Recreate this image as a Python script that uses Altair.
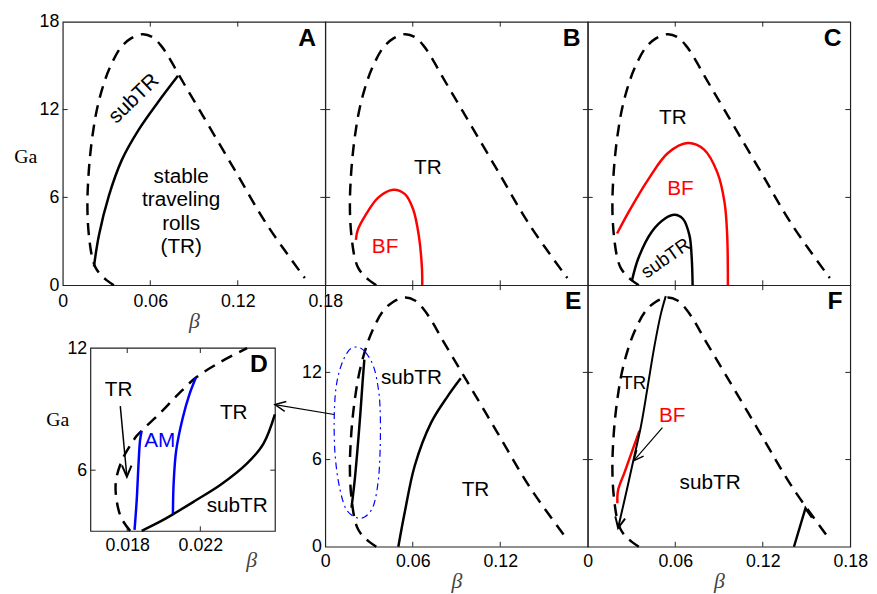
import altair as alt
import pandas as pd

# ------------------------------------------------------------------ data
# neutral stability curve (dashed), shared by panels A, B, C, E, F
neutral_beta = [0.0350, 0.0300, 0.0259, 0.0225, 0.0203, 0.0185, 0.0172, 0.0169, 0.0174, 0.0186,
                0.0205, 0.0232, 0.0270, 0.0320, 0.0395, 0.0465, 0.0548, 0.0615, 0.0675, 0.0735,
                0.0800, 0.0952, 0.1177, 0.1403, 0.1660]
neutral_ga = [0.00, 0.35, 0.72, 1.20, 1.84, 2.90, 4.30, 5.70, 7.10, 8.70,
              10.30, 11.90, 13.40, 14.80, 16.20, 16.85, 17.15, 16.95, 16.35, 15.45,
              14.30, 11.73, 7.91, 4.09, 0.49]

# panel A
subA_beta = [0.0214, 0.0248, 0.0316, 0.0406, 0.0519, 0.0654, 0.0790]
subA_ga = [1.28, 3.42, 6.11, 8.58, 10.60, 12.52, 14.31]

# panel B
bfB_beta = [0.0210, 0.0222, 0.0275, 0.0365, 0.0467, 0.0546, 0.0602, 0.0641, 0.0663, 0.0665]
bfB_ga = [3.10, 3.75, 4.77, 6.00, 6.52, 6.22, 5.21, 3.42, 1.17, 0.00]

# panel C
bfC_beta = [0.0201, 0.0280, 0.0415, 0.0550, 0.0686, 0.0798, 0.0889, 0.0938, 0.0956, 0.0961]
bfC_ga = [3.53, 4.99, 7.23, 9.03, 9.71, 9.26, 7.69, 5.66, 3.42, 0.00]
subC_beta = [0.0302, 0.0347, 0.0438, 0.0528, 0.0595, 0.0652, 0.0697, 0.0713, 0.0719]
subC_ga = [0.27, 1.84, 3.64, 4.54, 4.81, 4.54, 3.42, 1.84, 0.00]

# panel E
subE1_beta = [0.0180, 0.0203, 0.0223, 0.0241, 0.0257, 0.0268]
subE1_ga = [2.69, 4.69, 6.95, 9.22, 11.48, 12.88]
subE2_beta = [0.0501, 0.0546, 0.0614, 0.0726, 0.0839, 0.0929]
subE2_ga = [0.00, 2.42, 5.59, 8.54, 10.35, 11.59]
ell_beta = [0.0219, 0.0275, 0.0332, 0.0365, 0.0377, 0.0377, 0.0365, 0.0332, 0.0275, 0.0208,
            0.0140, 0.0095, 0.0068, 0.0061, 0.0072, 0.0106, 0.0162]
ell_ga = [13.74, 13.40, 12.38, 10.80, 9.22, 6.95, 4.69, 2.87, 2.08, 2.02,
          2.65, 4.23, 6.27, 8.54, 10.80, 12.38, 13.52]
link_beta = [0.0061, -0.0345]
link_ga = [9.10, 9.78]
linkhead_beta = [-0.0278, -0.0345, -0.0267]
linkhead_ga = [9.32, 9.78, 10.00]

# panel F
subF1_beta = [0.0208, 0.0275, 0.0320, 0.0365, 0.0411, 0.0456, 0.0501, 0.0535]
subF1_ga = [1.29, 4.23, 6.27, 8.31, 11.02, 13.74, 16.01, 17.25]
subF1head_beta = [0.0189, 0.0208, 0.0256]
subF1head_ga = [2.09, 1.29, 1.94]
bfF_beta = [0.0203, 0.0208, 0.0253, 0.0309, 0.0354]
bfF_ga = [2.99, 3.89, 5.14, 6.72, 7.97]
bfFarrow_beta = [0.0512, 0.0316]
bfFarrow_ga = [8.20, 5.93]
bfFhead_beta = [0.0383, 0.0316, 0.0336]
bfFhead_ga = [6.24, 5.93, 6.65]
subF2_beta = [0.1414, 0.1493, 0.1538]
subF2_ga = [0.00, 2.65, 2.01]

# panel D (inset)
neutD_beta = [0.01816, 0.01767, 0.01739, 0.01739, 0.01771, 0.01816, 0.01852, 0.01879,
              0.01987, 0.02077, 0.02176, 0.02311, 0.02456]
neutD_ga = [3.02, 3.66, 4.71, 5.52, 6.48, 7.21, 7.69, 7.94, 8.87, 9.71, 10.55, 11.32, 12.00]
am1_beta = [0.01840, 0.01852, 0.01861, 0.01870, 0.01879]
am1_ga = [3.07, 4.55, 6.17, 7.45, 7.94]
am2_beta = [0.02050, 0.02054, 0.02068, 0.02104, 0.02140, 0.02176]
am2_ga = [3.83, 5.36, 6.97, 8.58, 9.71, 10.55]
subD_beta = [0.01879, 0.01987, 0.02050, 0.02167, 0.02311, 0.02456, 0.02545, 0.02608]
subD_ga = [3.02, 3.51, 3.83, 4.47, 5.28, 6.33, 7.29, 8.74]
trD_beta = [0.01762, 0.01798]
trD_ga = [9.15, 5.68]
trDhead_beta = [0.01771, 0.01798, 0.01823]
trDhead_ga = [6.24, 5.68, 6.23]

# annotations
textA = [("subTR", 0.0489, 12.74, 316, 21, "black"), ("stable", 0.0812, 7.38, 0, 21, "black"),
         ("traveling", 0.0812, 5.83, 0, 21, "black"), ("rolls", 0.0812, 4.20, 0, 21, "black"),
         ("(TR)", 0.0812, 2.63, 0, 21, "black")]
textB = [("TR", 0.0704, 8.02, 0, 21, "black"), ("BF", 0.0410, 2.63, 0, 21, "#ff0000")]
textC = [("TR", 0.0584, 11.39, 0, 21, "black"), ("BF", 0.0636, 6.56, 0, 21, "#ff0000"),
         ("subTR", 0.0535, 1.84, 325, 19, "black")]
textE = [("subTR", 0.0591, 11.59, 0, 21, "black"), ("TR", 0.1030, 3.89, 0, 21, "black")]
textF = [("TR", 0.0315, 11.25, 0, 19, "black"), ("BF", 0.0579, 8.99, 0, 21, "#ff0000"),
         ("subTR", 0.0839, 4.35, 0, 21, "black")]
textD = [("TR", 0.01753, 9.95, 0, 21, "black"), ("AM", 0.01978, 7.45, 0, 21, "#0000ff"),
         ("TR", 0.02383, 8.83, 0, 21, "black"), ("subTR", 0.02402, 4.23, 0, 21, "black")]
letters = {"A": (0.1675, 16.9), "B": (0.169, 16.9), "C": (0.168, 16.9),
           "D": (0.0252, 11.21), "E": (0.170, 16.9), "F": (0.1695, 16.9)}

MAIN_X = [0, 0.18]
MAIN_Y = [0, 18]
D_X = [0.016, 0.0261]
D_Y = [3, 12]
MAIN_XTICKS = [0.06, 0.12]
MAIN_YTICKS = [6, 12]
D_XTICKS = [0.018, 0.022]
D_YTICKS = [6]

# ------------------------------------------------------------------ style / layout
SANS = "Liberation Sans"
SERIF = "Liberation Serif"
FRAME = "#222222"
TICK = 5
W_TOP, H_TOP = 266, 267
W_BOT, H_BOT = 266, 265
D_LEFT, D_RIGHT, D_TOP, D_BOTTOM = 28.3, 215.3, 63.7, 249.3


def axis(values, fmt, title="", **kw):
    base = dict(ticks=False, domain=False, grid=False, labelFont=SANS, labelFontSize=18,
                labelColor="black", labelFlush=False, labelOverlap=False, title=title,
                titleFontWeight="normal", values=values, format=fmt)
    base.update(kw)
    return alt.Axis(**base)


def xaxis(values, fmt, title_x, title_y, pad=7, **kw):
    return axis(values, fmt, title="β", labelPadding=pad, titleFont=SERIF, titleFontStyle="italic",
                titleFontSize=22, titleColor="#444444", titleX=title_x, titleY=title_y,
                titleAlign="center", titleBaseline="middle", **kw)


def yaxis(values, title="", title_x=0, title_y=0, **kw):
    extra = dict(labelPadding=4)
    if title:
        extra.update(titleFont=SERIF, titleFontSize=20, titleColor="black", titleAngle=0,
                     titleX=title_x, titleY=title_y, titleAlign="center", titleBaseline="middle")
    extra.update(kw)
    return axis(values, "d", title=title, **extra)


def pts(beta, ga):
    return pd.DataFrame({"beta": beta, "ga": ga, "i": list(range(len(beta)))})


class Panel:
    def __init__(self, xdom, ydom, xax, yax, xrange=None, yrange=None):
        kx = dict(domain=xdom, nice=False, zero=False)
        ky = dict(domain=ydom, nice=False, zero=False)
        if xrange is not None:
            kx["range"] = xrange
        if yrange is not None:
            ky["range"] = yrange
        self.xs = alt.Scale(**kx)
        self.ys = alt.Scale(**ky)
        self.xax = xax
        self.yax = yax
        self.layers = []

    def X(self, f="beta"):
        return alt.X(f + ":Q", scale=self.xs, axis=self.xax)

    def Y(self, f="ga"):
        return alt.Y(f + ":Q", scale=self.ys, axis=self.yax)

    def line(self, beta, ga, color="black", width=2.5, dash=None, interp="catmull-rom"):
        kw = dict(color=color, strokeWidth=width, interpolate=interp)
        if dash is not None:
            kw["strokeDash"] = dash
        self.layers.append(alt.Chart(pts(beta, ga)).mark_line(**kw).encode(
            x=self.X(), y=self.Y(), order="i:Q"))

    def texts(self, items):
        df = pd.DataFrame(items, columns=["label", "beta", "ga", "ang", "size", "col"])
        self.layers.append(alt.Chart(df).mark_text(font=SANS, align="center", baseline="middle").encode(
            x=self.X(), y=self.Y(), text="label:N",
            angle=alt.Angle("ang:Q", scale=None), size=alt.Size("size:Q", scale=None),
            color=alt.Color("col:N", scale=None)))

    def letter(self, key):
        b, g = letters[key]
        df = pd.DataFrame({"label": [key], "beta": [b], "ga": [g]})
        self.layers.append(alt.Chart(df).mark_text(font=SANS, fontSize=25, fontWeight="bold",
                                                   color="black", align="center", baseline="middle").encode(
            x=self.X(), y=self.Y(), text="label:N"))

    def ticks(self, xt, yt, left, right, top, bottom):
        dx = pd.DataFrame({"beta": xt})
        dy = pd.DataFrame({"ga": yt})
        rule = dict(color=FRAME, strokeWidth=1)
        self.layers.append(alt.Chart(dx).mark_rule(**rule).encode(
            x=self.X(), y=alt.value(bottom), y2=alt.value(bottom - TICK)))
        self.layers.append(alt.Chart(dx).mark_rule(**rule).encode(
            x=self.X(), y=alt.value(top), y2=alt.value(top + TICK)))
        self.layers.append(alt.Chart(dy).mark_rule(**rule).encode(
            y=self.Y(), x=alt.value(left), x2=alt.value(left + TICK)))
        self.layers.append(alt.Chart(dy).mark_rule(**rule).encode(
            y=self.Y(), x=alt.value(right), x2=alt.value(right - TICK)))

    def chart(self, w, h, **props):
        return alt.layer(*self.layers).properties(width=w, height=h, **props)


DASH = [12, 8]
FMT_MAIN = ".2~f"
FMT_D = ".3~f"

# ---- A
pA = Panel(MAIN_X, MAIN_Y, xaxis([0, 0.06, 0.12, 0.18], FMT_MAIN, 133, 36, pad=8),
           yaxis([0, 6, 12, 18], "Ga", -38, 136.5))
pA.ticks(MAIN_XTICKS, MAIN_YTICKS, 0, W_TOP, 0, H_TOP)
pA.line(neutral_beta, neutral_ga, dash=DASH)
pA.line(subA_beta, subA_ga)
pA.texts(textA)
pA.letter("A")
A = pA.chart(W_TOP, H_TOP)

# ---- B
pB = Panel(MAIN_X, MAIN_Y, None, None)
pB.ticks(MAIN_XTICKS, MAIN_YTICKS, 0, W_TOP, 0, H_TOP)
pB.line(neutral_beta, neutral_ga, dash=DASH)
pB.line(bfB_beta, bfB_ga, color="#ff0000")
pB.texts(textB)
pB.letter("B")
B = pB.chart(W_TOP, H_TOP)

# ---- C
pC = Panel(MAIN_X, MAIN_Y, None, None)
pC.ticks(MAIN_XTICKS, MAIN_YTICKS, 0, W_TOP, 0, H_TOP)
pC.line(neutral_beta, neutral_ga, dash=DASH)
pC.line(bfC_beta, bfC_ga, color="#ff0000")
pC.line(subC_beta, subC_ga)
pC.texts(textC)
pC.letter("C")
C = pC.chart(W_TOP, H_TOP)

# ---- D (inset drawn inside its grid cell)
pD = Panel(D_X, D_Y,
           xaxis([0.018, 0.022], FMT_D, D_LEFT + 162.7, 28.7, pad=6, offset=-(H_BOT - D_BOTTOM)),
           yaxis([6, 12], "Ga", -34, D_TOP + 72.8, offset=-D_LEFT),
           xrange=[D_LEFT, D_RIGHT], yrange=[D_BOTTOM, D_TOP])
frame = pd.DataFrame({"x1": [D_X[0]], "x2": [D_X[1]], "y1": [D_Y[0]], "y2": [D_Y[1]]})
pD.layers.append(alt.Chart(frame).mark_rect(fillOpacity=0, stroke=FRAME, strokeWidth=1.2).encode(
    x=pD.X("x1"), x2="x2:Q", y=pD.Y("y1"), y2="y2:Q"))
pD.ticks(D_XTICKS, D_YTICKS, D_LEFT, D_RIGHT, D_TOP, D_BOTTOM)
pD.line(neutD_beta, neutD_ga, dash=DASH)
pD.line(am1_beta, am1_ga, color="#0000ff")
pD.line(am2_beta, am2_ga, color="#0000ff")
pD.line(subD_beta, subD_ga)
pD.line(trD_beta, trD_ga, width=1.5, interp="linear")
pD.line(trDhead_beta, trDhead_ga, width=2, interp="linear")
pD.texts(textD)
pD.letter("D")
D = pD.chart(W_BOT, H_BOT, view=alt.ViewBackground(stroke="transparent"))

# ---- E
pE = Panel(MAIN_X, MAIN_Y, xaxis([0, 0.06, 0.12], FMT_MAIN, 133, 34, pad=6.5), yaxis([0, 6, 12]))
pE.ticks(MAIN_XTICKS, MAIN_YTICKS, 0, W_BOT, 0, H_BOT)
pE.line(neutral_beta, neutral_ga, dash=DASH)
pE.line(ell_beta, ell_ga, color="#0000ff", width=1.2, dash=[7, 4, 2, 4], interp="cardinal-closed")
pE.line(subE1_beta, subE1_ga)
pE.line(subE2_beta, subE2_ga)
pE.line(link_beta, link_ga, width=1.2, interp="linear")
pE.line(linkhead_beta, linkhead_ga, width=1.5, interp="linear")
pE.texts(textE)
pE.letter("E")
E = pE.chart(W_BOT, H_BOT)

# ---- F
pF = Panel(MAIN_X, MAIN_Y, xaxis([0, 0.06, 0.12, 0.18], FMT_MAIN, 133, 34, pad=6.5), None)
pF.ticks(MAIN_XTICKS, MAIN_YTICKS, 0, W_BOT, 0, H_BOT)
pF.line(neutral_beta, neutral_ga, dash=DASH)
pF.line(bfF_beta, bfF_ga, color="#ff0000")
pF.line(subF1_beta, subF1_ga, width=2)
pF.line(subF1head_beta, subF1head_ga, width=2, interp="linear")
pF.line(bfFarrow_beta, bfFarrow_ga, width=1.2, interp="linear")
pF.line(bfFhead_beta, bfFhead_ga, width=1.5, interp="linear")
pF.line(subF2_beta, subF2_ga, interp="linear")
pF.texts(textF)
pF.letter("F")
F = pF.chart(W_BOT, H_BOT)

chart = alt.concat(A, B, C, D, E, F, columns=3, spacing=0, bounds="flush").properties(
    padding={"left": 4.5, "top": 0, "right": 0, "bottom": 0}
).configure_view(stroke=FRAME, strokeWidth=1.2)

chart.save("out.html", embed_options={"renderer": "svg", "actions": False})
